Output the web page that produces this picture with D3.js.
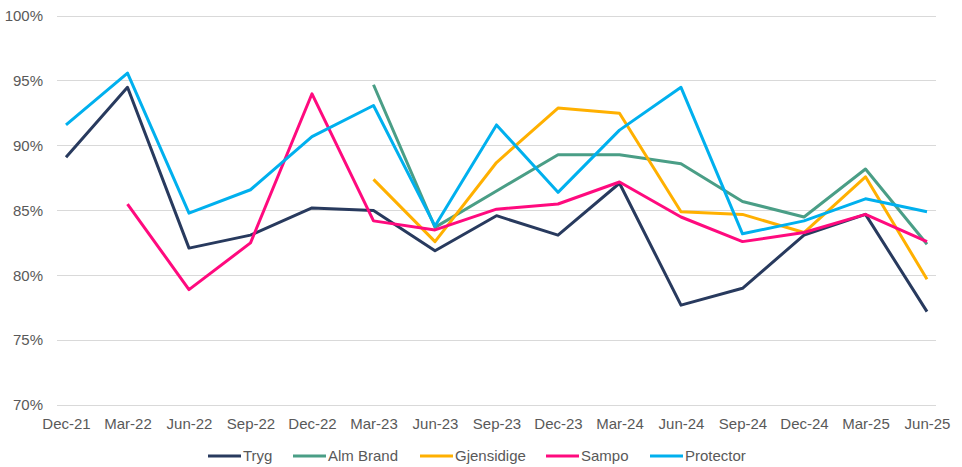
<!DOCTYPE html>
<html><head><meta charset="utf-8">
<script src="https://cdn.jsdelivr.net/npm/d3@7"></script>
<style>
html,body{margin:0;padding:0;background:#fff;}
text{font-family:"Liberation Sans",Arial,sans-serif;}
</style></head>
<body><svg id="chart" width="962" height="467"></svg>
<script>
const categories = ["Dec-21","Mar-22","Jun-22","Sep-22","Dec-22","Mar-23","Jun-23","Sep-23","Dec-23","Mar-24","Jun-24","Sep-24","Dec-24","Mar-25","Jun-25"];
const tryg       = [89.1,94.5,82.1,83.1,85.2,85.0,81.9,84.6,83.1,87.1,77.7,79.0,83.1,84.7,77.2];
const almBrand   = [null,null,null,null,null,94.7,83.7,86.5,89.3,89.3,88.6,85.7,84.5,88.2,82.4];
const gjensidige = [null,null,null,null,null,87.4,82.6,88.7,92.9,92.5,84.9,84.7,83.3,87.6,79.7];
const sampo      = [null,85.5,78.9,82.5,94.0,84.2,83.5,85.1,85.5,87.2,84.5,82.6,83.3,84.7,82.6];
const protector  = [91.6,95.6,84.8,86.6,90.7,93.1,83.8,91.6,86.4,91.2,94.5,83.2,84.2,85.9,84.9];
const yTicks = [70,75,80,85,90,95,100];
const seriesNames = ["Tryg","Alm Brand","Gjensidige","Sampo","Protector"];
const seriesColors = ["#283a5e","#4a9e86","#ffb000","#ff0a7e","#00b0ee"];

const series = [tryg, almBrand, gjensidige, sampo, protector].map((v,i)=>({name:seriesNames[i],color:seriesColors[i],values:v}));

const svg = d3.select("#chart");
const x = d3.scalePoint().domain(categories).range([66, 927]);
const y = d3.scaleLinear().domain([70,100]).range([405,16]);
const gridLeft = 57, gridRight = 936;

// gridlines
svg.append("g").selectAll("line").data(yTicks).join("line")
  .attr("x1",gridLeft).attr("x2",gridRight)
  .attr("y1",d=>y(d)).attr("y2",d=>y(d))
  .attr("stroke","#d9d9d9").attr("stroke-width",1).attr("shape-rendering","crispEdges");

// y axis labels
const yAxis = svg.append("g").attr("transform","translate(43,0)")
  .call(d3.axisLeft(y).tickValues(yTicks).tickSize(0).tickPadding(0).tickFormat(d=>d+"%"));
yAxis.select(".domain").remove();
yAxis.selectAll("text").attr("font-size","15px").attr("fill","#595959")
  .attr("font-family","'Liberation Sans',Arial,sans-serif");

// x axis labels
const xAxis = svg.append("g").attr("transform","translate(0,418)")
  .call(d3.axisBottom(x).tickSize(0).tickPadding(0));
xAxis.select(".domain").remove();
xAxis.selectAll("text").attr("font-size","15px").attr("fill","#595959")
  .attr("font-family","'Liberation Sans',Arial,sans-serif");

// lines
const line = d3.line().defined(d=>d.v!=null).x(d=>x(d.c)).y(d=>y(d.v));
svg.append("g").selectAll("path").data(series).join("path")
  .attr("fill","none").attr("stroke",d=>d.color).attr("stroke-width",3)
  .attr("stroke-linejoin","round")
  .attr("d",d=>line(d.values.map((v,i)=>({c:categories[i],v}))));

// legend
const legendX = [208,293,420,546,650];
const lg = svg.append("g").selectAll("g").data(series).join("g")
  .attr("transform",(d,i)=>`translate(${legendX[i]},456)`);
lg.append("line").attr("x1",0).attr("x2",33).attr("y1",0).attr("y2",0)
  .attr("stroke",d=>d.color).attr("stroke-width",3);
lg.append("text").attr("x",35).attr("y",0).attr("dy","0.35em")
  .attr("font-size","15px").attr("fill","#595959").text(d=>d.name);
</script>
</body></html>
